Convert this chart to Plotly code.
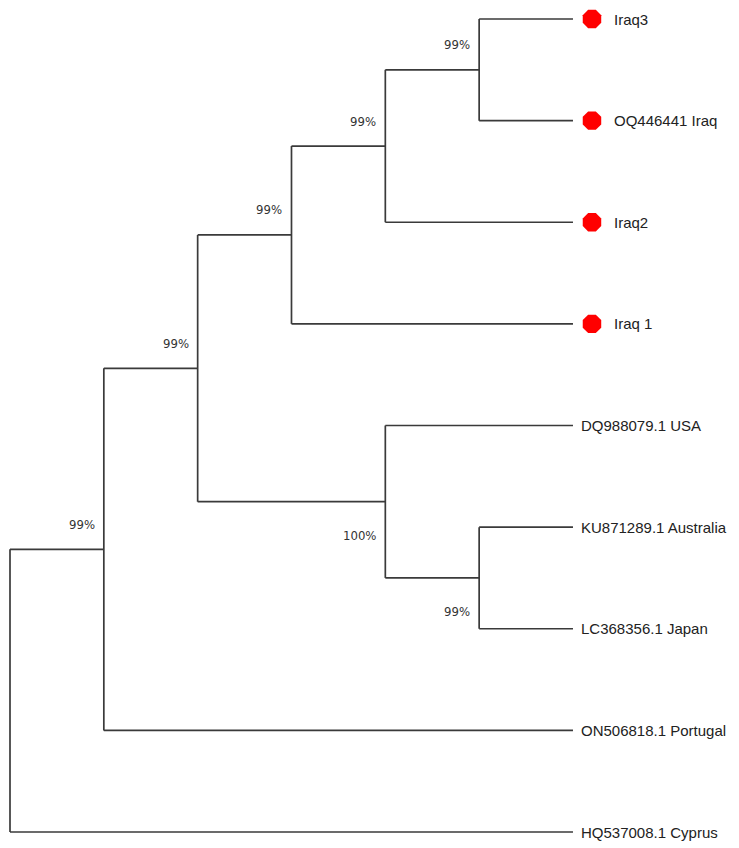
import plotly.graph_objects as go

# ---- data ----
leaf_names = ["Iraq3", "OQ446441 Iraq", "Iraq2", "Iraq 1", "DQ988079.1 USA",
              "KU871289.1 Australia", "LC368356.1 Japan", "ON506818.1 Portugal",
              "HQ537008.1 Cyprus"]
leaf_marked = [True, True, True, True, False, False, False, False, False]
# topology (leaf indices), cladogram
tree = [[[[[[0, 1], 2], 3], [4, [5, 6]]], 7], 8]
# bootstrap support per internal node, keyed by the leaves it contains
bootstrap_clades = [(0, 1), (0, 1, 2), (0, 1, 2, 3), (5, 6), (4, 5, 6),
                    (0, 1, 2, 3, 4, 5, 6), (0, 1, 2, 3, 4, 5, 6, 7)]
bootstrap_values = ["99%", "99%", "99%", "99%", "100%", "99%", "99%"]
label_below = [False, False, False, True, True, False, False]

# ---- layout computation ----
def height(n):
    return 0 if isinstance(n, int) else 1 + max(height(c) for c in n)

def leaves_of(n):
    return (n,) if isinstance(n, int) else tuple(x for c in n for x in leaves_of(c))

H = height(tree)
lx, ly = [], []
nodes = []  # (x, y, leafset)

def layout(n):
    if isinstance(n, int):
        return H, float(n)
    pos = [layout(c) for c in n]
    x = H - height(n)
    y = (pos[0][1] + pos[-1][1]) / 2
    lx.extend([x, x, None]); ly.extend([pos[0][1], pos[-1][1], None])
    for cx, cy in pos:
        lx.extend([x, cx, None]); ly.extend([cy, cy, None])
    nodes.append((x, y, leaves_of(n)))
    return x, y

layout(tree)

# page has an 8px body margin; figure sized to fit the 739x848 window
W, Hgt = 731, 840
px_per_x = 93.83
px_per_y = 101.625
x0_px, y0_px = 2, 11
xr = [-x0_px / px_per_x, (W - x0_px) / px_per_x]
yr = [(Hgt - y0_px) / px_per_y, -y0_px / px_per_y]

fig = go.Figure()
fig.add_trace(go.Scatter(x=lx, y=ly, mode="lines",
                         line=dict(color="#3a3a3a", width=1.7),
                         hoverinfo="skip", showlegend=False))

mx = [H + 19 / px_per_x for i, m in enumerate(leaf_marked) if m]
my = [i for i, m in enumerate(leaf_marked) if m]
fig.add_trace(go.Scatter(x=mx, y=my, mode="markers",
                         marker=dict(symbol="octagon", size=20, color="#ff0000",
                                     line=dict(width=0)),
                         hoverinfo="skip", showlegend=False))

annots = []
for i, name in enumerate(leaf_names):
    annots.append(dict(x=H, y=i, text=name, showarrow=False, xanchor="left",
                       yanchor="middle", xshift=39 if leaf_marked[i] else 6,
                       font=dict(family="Liberation Sans, Arial", size=15,
                                 color="#222222")))

node_map = {tuple(sorted(l)): (x, y) for x, y, l in nodes}
for clade, val, below in zip(bootstrap_clades, bootstrap_values, label_below):
    x, y = node_map[tuple(sorted(clade))]
    annots.append(dict(x=x, y=y, text=val, showarrow=False, xanchor="right",
                       yanchor="middle", xshift=-7, yshift=-34 if below else 25,
                       font=dict(family="DejaVu Sans Condensed, DejaVu Sans",
                                 size=13, color="#333333")))

fig.update_layout(width=W, height=Hgt, margin=dict(l=0, r=0, t=0, b=0),
                  paper_bgcolor="white", plot_bgcolor="white",
                  xaxis=dict(range=xr, visible=False, fixedrange=True),
                  yaxis=dict(range=yr, visible=False, fixedrange=True),
                  annotations=annots)

fig.write_html("out.html")
